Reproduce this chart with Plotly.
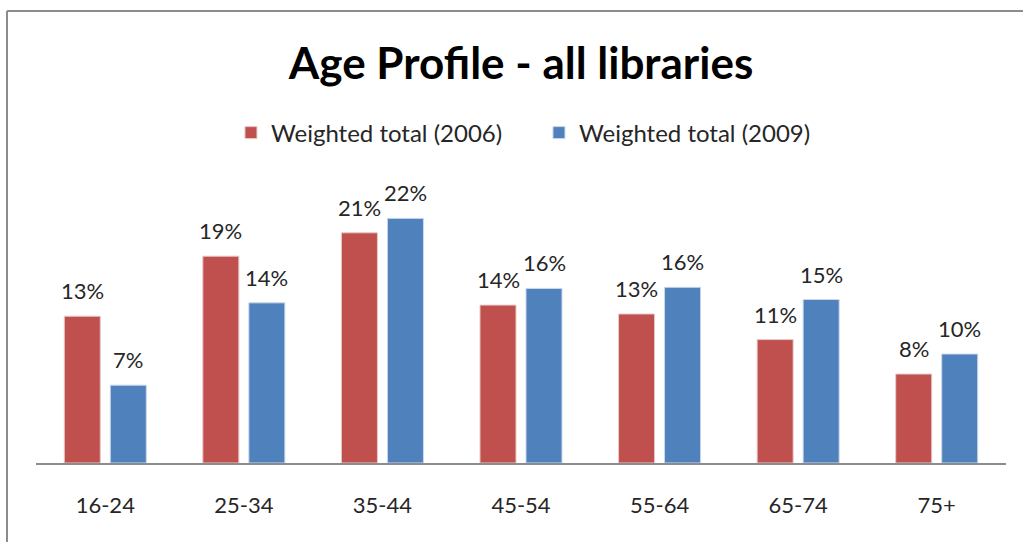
import plotly.graph_objects as go

# Données
age_groups = ["16-24", "25-34", "35-44", "45-54", "55-64", "65-74", "75+"]
total_2006 = [13.2, 18.6, 20.7, 14.2, 13.4, 11.1, 8.0]
total_2009 = [7.0, 14.4, 22.0, 15.7, 15.8, 14.7, 9.8]
series_names = ["Weighted total (2006)", "Weighted total (2009)"]

colors = ["#C0504D", "#4F81BD"]
edges = ["#E6CACA", "#CBD8EA"]

fig = go.Figure()
for name, vals, c, e in zip(series_names, [total_2006, total_2009], colors, edges):
    fig.add_trace(go.Bar(x=age_groups, y=vals, name=name,
                         marker_color=c, marker_line_color=e, marker_line_width=1))

# Étiquettes de données au-dessus des barres (décalées comme dans Excel)
labels = []
for vals, dx in zip([total_2006, total_2009], [-23, 23]):
    for g, v in zip(age_groups, vals):
        labels.append(dict(x=g, y=v, text=f"{v:.0f}%", showarrow=False,
                           xshift=dx, yshift=10, yanchor="bottom",
                           font=dict(size=22, color="#262626")))

fig.update_layout(
    width=1023, height=542,
    margin=dict(l=36, r=17, t=185, b=79),
    font=dict(family="Lato, Open Sans, sans-serif", color="#262626"),
    title=dict(text="<b>Age Profile - all libraries</b>", x=521 / 1023, xanchor="center",
               y=1 - 64 / 542, yanchor="middle", font=dict(size=44, color="black")),
    barmode="group", bargap=0.336, bargroupgap=0.217,
    showlegend=True,
    legend=dict(orientation="h", x=0.201, xanchor="left", y=1.187, yanchor="middle",
                font=dict(size=24, color="#262626"), itemwidth=30, traceorder="normal",
                entrywidth=263, entrywidthmode="pixels"),
    xaxis=dict(showline=True, linecolor="#8c8c8c", linewidth=1.5, ticks="outside",
               ticklen=22, tickcolor="rgba(0,0,0,0)", tickfont=dict(size=22)),
    yaxis=dict(range=[0, 25], visible=False),
    plot_bgcolor="white", paper_bgcolor="white",
    annotations=labels,
    shapes=[
        dict(type="line", xref="paper", yref="paper", x0=-0.0299, x1=1.03, y0=1.626, y1=1.626,
             line=dict(color="#8c8c8c", width=2)),
        dict(type="line", xref="paper", yref="paper", x0=-0.0299, x1=-0.0299, y0=1.626, y1=-0.3,
             line=dict(color="#8c8c8c", width=2)),
    ],
)

# la page HTML a une marge de 8 px par défaut : on la retire
fig.write_html("out.html", config={"displayModeBar": False},
               post_script="document.body.style.margin='0';")
